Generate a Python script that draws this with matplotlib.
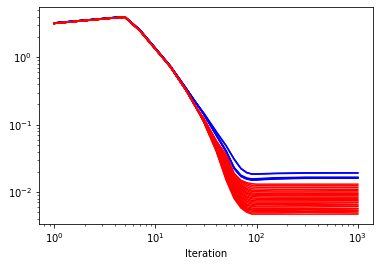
import matplotlib
matplotlib.use("Agg")
import matplotlib.pyplot as plt

head_x = [1, 2, 3, 4, 5, 7, 10, 14, 20, 25]
tail_x = [30, 40, 50, 60, 70, 80, 90, 100, 150, 300, 1000]

# common start (all runs overlap here)
red_head = [3.20, 3.52, 3.72, 3.87, 3.95, 2.51, 1.33, 0.73, 0.33, 0.185]
blue_head = [3.25, 3.57, 3.77, 3.92, 4.00, 2.58, 1.37, 0.75, 0.35, 0.215]

# per-run tails
blue_tails = [
    [0.150, 0.079, 0.0490, 0.0310, 0.0225, 0.0195, 0.0186, 0.0186, 0.0190, 0.0193, 0.0193],
    [0.149, 0.078, 0.0485, 0.0305, 0.0222, 0.0193, 0.0184, 0.0184, 0.0188, 0.0191, 0.0192],
    [0.146, 0.072, 0.0410, 0.0232, 0.0178, 0.0162, 0.0157, 0.0158, 0.0163, 0.0166, 0.0166],
    [0.145, 0.071, 0.0405, 0.0228, 0.0175, 0.0159, 0.0154, 0.0155, 0.0160, 0.0164, 0.0164],
    [0.144, 0.070, 0.0400, 0.0225, 0.0172, 0.0157, 0.0152, 0.0153, 0.0158, 0.0162, 0.0163],
    [0.145, 0.070, 0.0402, 0.0226, 0.0173, 0.0158, 0.0153, 0.0153, 0.0159, 0.0162, 0.0162],
    [0.143, 0.069, 0.0396, 0.0222, 0.0170, 0.0155, 0.0150, 0.0151, 0.0156, 0.0160, 0.0161],
]

red_tails = [
    [0.110, 0.0400, 0.0150, 0.0080, 0.0058, 0.0050, 0.0047, 0.0047, 0.0047, 0.0047, 0.0047],
    [0.111, 0.0410, 0.0157, 0.0083, 0.0061, 0.0052, 0.0049, 0.0049, 0.0049, 0.0050, 0.0049],
    [0.111, 0.0415, 0.0163, 0.0086, 0.0063, 0.0054, 0.0052, 0.0051, 0.0051, 0.0051, 0.0052],
    [0.112, 0.0422, 0.0170, 0.0089, 0.0066, 0.0056, 0.0054, 0.0053, 0.0053, 0.0054, 0.0053],
    [0.113, 0.0430, 0.0176, 0.0092, 0.0069, 0.0058, 0.0056, 0.0055, 0.0055, 0.0055, 0.0056],
    [0.113, 0.0437, 0.0183, 0.0095, 0.0072, 0.0061, 0.0058, 0.0057, 0.0057, 0.0057, 0.0057],
    [0.114, 0.0443, 0.0190, 0.0099, 0.0075, 0.0064, 0.0061, 0.0060, 0.0060, 0.0060, 0.0061],
    [0.115, 0.0450, 0.0196, 0.0102, 0.0078, 0.0066, 0.0063, 0.0062, 0.0062, 0.0063, 0.0062],
    [0.115, 0.0458, 0.0203, 0.0106, 0.0082, 0.0070, 0.0066, 0.0065, 0.0065, 0.0065, 0.0065],
    [0.116, 0.0465, 0.0210, 0.0110, 0.0085, 0.0073, 0.0069, 0.0068, 0.0068, 0.0068, 0.0069],
    [0.117, 0.0472, 0.0217, 0.0114, 0.0089, 0.0077, 0.0072, 0.0071, 0.0071, 0.0071, 0.0071],
    [0.117, 0.0480, 0.0224, 0.0118, 0.0093, 0.0080, 0.0075, 0.0074, 0.0074, 0.0074, 0.0075],
    [0.118, 0.0487, 0.0232, 0.0123, 0.0097, 0.0084, 0.0079, 0.0078, 0.0077, 0.0077, 0.0077],
    [0.119, 0.0495, 0.0240, 0.0127, 0.0101, 0.0087, 0.0082, 0.0081, 0.0080, 0.0080, 0.0081],
    [0.119, 0.0503, 0.0248, 0.0132, 0.0106, 0.0092, 0.0086, 0.0085, 0.0084, 0.0084, 0.0084],
    [0.120, 0.0510, 0.0257, 0.0137, 0.0110, 0.0096, 0.0090, 0.0089, 0.0088, 0.0088, 0.0088],
    [0.121, 0.0518, 0.0266, 0.0142, 0.0114, 0.0099, 0.0093, 0.0092, 0.0091, 0.0091, 0.0092],
    [0.121, 0.0527, 0.0276, 0.0148, 0.0119, 0.0104, 0.0097, 0.0096, 0.0095, 0.0095, 0.0095],
    [0.122, 0.0535, 0.0286, 0.0154, 0.0124, 0.0109, 0.0102, 0.0101, 0.0100, 0.0100, 0.0100],
    [0.123, 0.0543, 0.0297, 0.0160, 0.0129, 0.0113, 0.0106, 0.0105, 0.0104, 0.0104, 0.0105],
    [0.123, 0.0552, 0.0309, 0.0167, 0.0135, 0.0120, 0.0112, 0.0111, 0.0110, 0.0110, 0.0110],
    [0.124, 0.0561, 0.0322, 0.0174, 0.0141, 0.0127, 0.0119, 0.0118, 0.0117, 0.0117, 0.0117],
    [0.124, 0.0570, 0.0340, 0.0182, 0.0146, 0.0133, 0.0126, 0.0125, 0.0124, 0.0124, 0.0124],
    [0.125, 0.0580, 0.0360, 0.0190, 0.0150, 0.0138, 0.0133, 0.0131, 0.0131, 0.0131, 0.0131],
]

fig = plt.figure(figsize=(380 / 72, 266 / 72), dpi=72)
ax = fig.add_axes([39 / 380, 42 / 266, 334 / 380, 217 / 266])

x_all = head_x + tail_x
for row in blue_tails:
    ax.plot(x_all, blue_head + row, 'b-', lw=1.5)
for row in red_tails:
    ax.plot(x_all, red_head + row, 'r-', lw=1.5)

ax.set_xscale('log')
ax.set_yscale('log')
ax.set_xlabel('Iteration')

fig.savefig('out.png', dpi=72)
